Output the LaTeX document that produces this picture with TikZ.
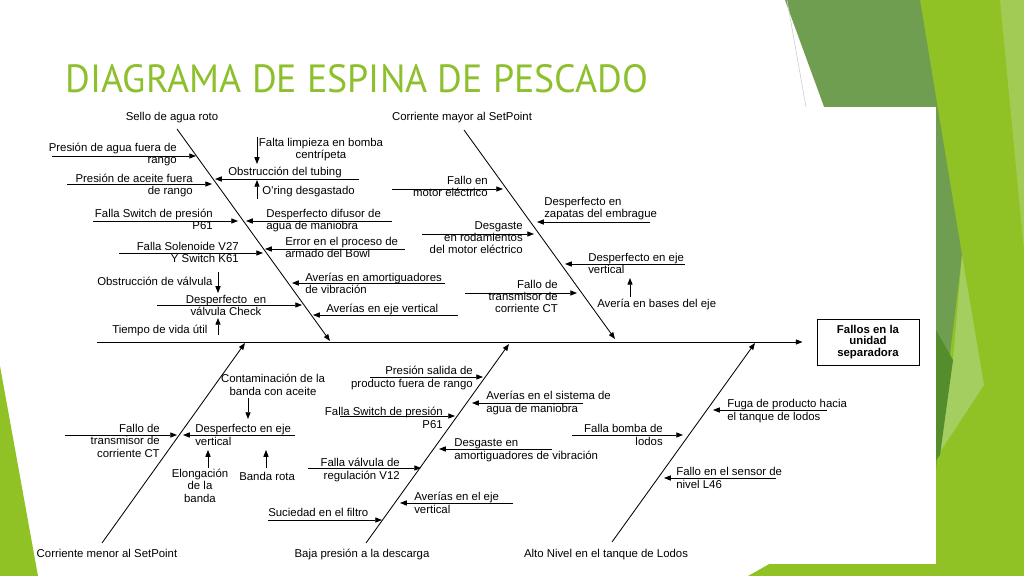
\documentclass[tikz,border=0pt]{standalone}
\usepackage{fontspec}
\setmainfont{Liberation Sans}
\newfontfamily\titlefont{PT Sans}
\usepackage{tikz}
\usetikzlibrary{arrows.meta,positioning}
\definecolor{verde}{RGB}{144,194,38}
\definecolor{verdegris}{RGB}{112,158,80}
\definecolor{verdeosc}{RGB}{84,142,44}
\definecolor{verdeclaro}{RGB}{165,206,96}
\definecolor{verdetit}{RGB}{141,192,44}
\tikzset{
  arr/.style={line width=0.6pt,-{Triangle[length=4.8pt,width=3.6pt]}},
  lbl/.style={inner sep=0pt,font=\fontsize{8.1}{8.6}\selectfont},
  izq/.style={lbl,anchor=base east,align=right},
  der/.style={lbl,anchor=base west,align=left},
  cen/.style={lbl,anchor=base,align=center},
  efecto/.style={draw,line width=0.7pt,minimum width=2.55cm,minimum height=1.15cm,align=center,
    font=\fontsize{8.1}{8.2}\selectfont\bfseries}
}

\begin{document}
\begin{tikzpicture}[x=0.025cm,y=-0.025cm]
\useasboundingbox (0,0) rectangle (1024,576);
\fill[white] (0,0) rectangle (1024,576);

% fondo verde
\fill[verde] (920,0) -- (1024,0) -- (1024,576) -- (748,576) -- (936,470) -- cycle;
\fill[verdegris] (785,0) -- (920,0) -- (962,255) -- (936,470) -- (880,260) -- cycle;
\fill[verdeclaro] (962,255) -- (984,385) -- (938,455) -- (953,360) -- cycle;
\fill[verdeosc] (936,330) -- (953,360) -- (940,455) -- (936,460) -- cycle;
\fill[verdeclaro!80!verde] (1000,0) -- (1024,0) -- (1024,250) -- cycle;
\fill[verde] (0,366) -- (38,576) -- (0,576) -- cycle;
\draw[gray!40] (787,0) -- (806,107);
\fill[white] (40,107) rectangle (936,564);

\node[inner sep=0pt,text=verdetit,font=\titlefont] (titulo) at (357,79)
  {\resizebox{14.55cm}{0.7cm}{DIAGRAMA DE ESPINA DE PESCADO}};

% efecto y espina central
\node[efecto] (fallos) at (868,342) {Fallos en la\\unidad\\separadora};
\coordinate (cola) at (97,342);
\draw[arr] (cola) -- ([xshift=-0.35cm]fallos.west);

% espinas
\node[cen] (sello) at (172,121) {Sello de agua roto};
\node[cen] (mayor) at (462,121) {Corriente mayor al SetPoint};
\node[cen] (menor) at (107,557) {Corriente menor al SetPoint};
\node[cen] (baja) at (362,557) {Baja presión a la descarga};
\node[cen] (alto) at (606,557) {Alto Nivel en el tanque de Lodos};

\foreach \n/\xa/\ya/\xb/\yb in {s1/177/129/330/341, s2/464/130/615/339, s3/102/543/245/343,
                                s4/366/543/509/344, s5/612/542/755/343}
         {
           \coordinate (\n0) at (\xa,\ya);
           \coordinate (\n1) at (\xb,\yb);
           \draw[arr] (\n0) -- (\n1);
         }

% causas (y = linea base de la ultima linea)
\node[izq] (aguaP) at (177,164) {Presión de agua fuera de\\rango};
\node[izq] (aceiteP) at (193,195) {Presión de aceite fuera\\de rango};
\node[izq] (switchA) at (213,230) {Falla Switch de presión\\P61};
\node[izq] (solenoide) at (239,263) {Falla Solenoide V27\\Y Switch K61};
\node[izq] (motor) at (488,197) {Fallo en\\motor eléctrico};
\node[izq] (rodam) at (523,254) {Desgaste\\en rodamientos\\del motor eléctrico};
\node[izq] (ctA) at (558,313) {Fallo de\\transmisor de\\corriente CT};
\node[izq] (ctB) at (160,457) {Fallo de\\transmisor de\\corriente CT};
\node[izq] (salida) at (473,387) {Presión salida de\\producto fuera de rango};
\node[izq] (switchB) at (443,428) {Falla Switch de presión\\P61};
\node[izq] (valvula) at (400,479) {Falla válvula de\\regulación V12};
\node[izq] (bomba) at (663,445) {Falla bomba de\\lodos};

\node[der] (tubing) at (228,176) {Obstrucción del tubing};
\node[der] (difusor) at (266,230) {Desperfecto difusor de\\agua de maniobra};
\node[der] (bowl) at (285,258) {Error en el proceso de\\armado del Bowl};
\node[der] (amortA) at (305,294) {Averías en amortiguadores\\de vibración};
\node[der] (ejeA) at (326,313) {Averías en eje vertical};
\node[der] (zapatas) at (544,218) {Desperfecto en\\zapatas del embrague};
\node[der] (ejeB) at (588,274) {Desperfecto en eje\\vertical};
\node[der] (ejeC) at (195,445) {Desperfecto en eje\\vertical};
\node[der] (sistema) at (486,412) {Averías en el sistema de\\agua de maniobra};
\node[der] (amortB) at (454,459) {Desgaste en\\amortiguadores de vibración};
\node[der] (ejeD) at (414,513) {Averías en el eje\\vertical};
\node[der] (fuga) at (727,420) {Fuga de producto hacia\\el tanque de lodos};
\node[der] (sensor) at (676,488) {Fallo en el sensor de\\nivel L46};
\node[der] (filtro) at (268,516) {Suciedad en el filtro};

% sub-causas
\node[cen] (limpieza) at (321,159) {Falta limpieza en bomba\\centrípeta};
\node[der] (oring) at (262,195) {O'ring desgastado};
\node[der] (obstr) at (97,286) {Obstrucción de válvula};
\node[cen] (check) at (226,316) {Desperfecto\ \ en\\válvula Check};
\node[der] (vida) at (112,333) {Tiempo de vida útil};
\node[der] (bases) at (597,308) {Avería en bases del eje};
\node[cen] (contam) at (273,395) {Contaminación de la\\banda con aceite};
\node[cen] (elong) at (200,502) {Elongación\\de la\\banda};
\node[der] (rota) at (239,480) {Banda rota};

\foreach \n/\xa/\xb/\y in {c1/52/196/156, c2/359/215/179, c3/67/212/184, c4/93/238/221,
                           c5/392/246/221, c6/119/263/253, c7/405/265/249, c8/445/292/283,
                           c9/157/302/305, c10/458/313/315, c11/392/503/189, c12/650/537/222,
                           c13/422/534/234, c14/685/565/264, c15/465/577/293, c16/65/177/435,
                           c17/295/183/435, c18/268/382/520, c19/370/483/377, c20/583/472/403,
                           c21/340/455/416, c22/552/439/449, c23/308/421/468, c24/513/400/503,
                           c25/827/713/410, c26/572/683/435, c27/776/664/478}
         {
           \coordinate (\n0) at (\xa,\y);
           \coordinate (\n1) at (\xb,\y);
           \draw[arr] (\n0) -- (\n1);
         }

\foreach \n/\x/\ya/\yb in {v1/257/137/164, v2/257/199/180, v3/218/272/293, v4/218/335/318,
                           v5/630/297/278, v6/248/398/419, v7/208/468/450, v8/266/468/450}
         {
           \coordinate (\n0) at (\x,\ya);
           \coordinate (\n1) at (\x,\yb);
           \draw[arr] (\n0) -- (\n1);
         }

\end{tikzpicture}
\end{document}
